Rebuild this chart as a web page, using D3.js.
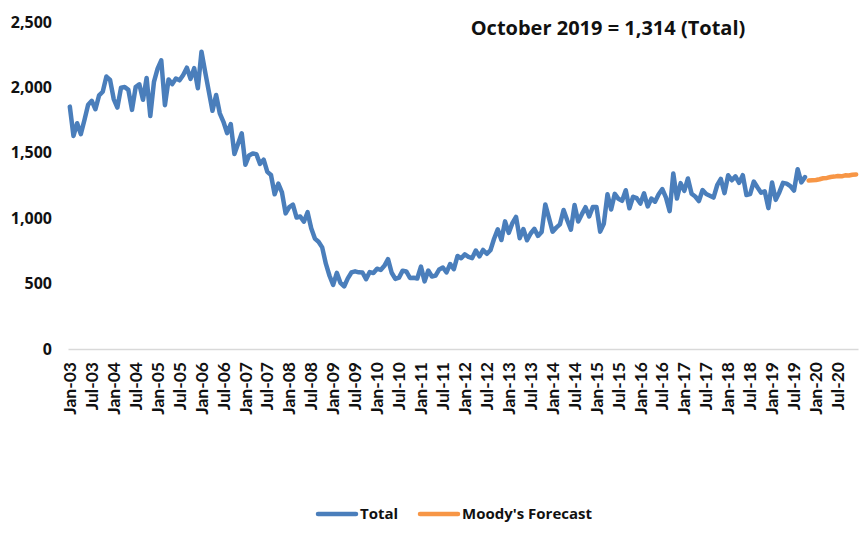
<!DOCTYPE html>
<html>
<head>
<meta charset="utf-8">
<script src="https://cdn.jsdelivr.net/npm/d3@7"></script>
<style>
  body { margin: 0; background: #fff; }
  svg text { font-family: "Open Sans", sans-serif; font-weight: bold; fill: #111; }
</style>
</head>
<body>
<div id="chartDiv"></div>
<script>
// monthly totals (thousands), Jan-03 .. Oct-19
var total = [
  1853,1629,1726,1643,1751,1867,1897,1833,1939,1967,2083,2057,  // 2003
  1911,1846,1998,2003,1981,1828,2002,2024,1905,2072,1782,2042,  // 2004
  2144,2207,1864,2061,2025,2068,2054,2095,2151,2065,2147,1994,  // 2005
  2273,2119,1969,1821,1942,1802,1737,1650,1720,1491,1570,1649,  // 2006
  1409,1480,1495,1490,1415,1448,1354,1330,1183,1264,1197,1037,  // 2007
  1084,1103,1005,1013,973,1046,923,844,820,777,652,560,         // 2008
  490,582,505,478,540,585,594,586,585,534,588,581,              // 2009
  614,604,636,687,583,536,546,599,593,543,545,539,              // 2010
  630,517,600,554,561,608,623,585,650,610,711,694,              // 2011
  723,704,695,753,708,757,728,755,843,915,833,976,              // 2012
  888,962,1010,847,917,831,883,919,865,895,1105,1003,           // 2013
  897,928,953,1063,984,912,1101,975,1031,1084,1013,1086,        // 2014
  1085,897,957,1183,1066,1186,1148,1133,1214,1076,1164,1153,    // 2015
  1112,1190,1090,1150,1126,1183,1222,1157,1054,1342,1150,1268,  // 2016
  1209,1304,1187,1166,1131,1215,1185,1172,1158,1252,1300,1192,  // 2017
  1328,1290,1320,1270,1329,1177,1184,1280,1236,1195,1206,1077,  // 2018
  1273,1140,1199,1270,1264,1245,1211,1375,1274,1314             // 2019
];
// Moody's forecast, Nov-19 .. Dec-20
var forecast = [1288,1290,1292,1298,1305,1308,1315,1318,1322,1320,1328,1326,1332,1334];

var monthNames = ["Jan","Feb","Mar","Apr","May","Jun","Jul","Aug","Sep","Oct","Nov","Dec"];
var yTicks = [0,500,1000,1500,2000,2500];
var titleText = "October 2019 = 1,314 (Total)";
var legendItems = ["Total","Moody's Forecast"];
var colors = ["#4a7ebb","#f79646"];

var months = [];
for (var yr = 2003; yr <= 2020; yr++) {
  for (var m = 0; m < 12; m++) {
    months.push(monthNames[m] + "-" + String(yr).slice(2));
  }
}
var fcStart = total.length; // forecast begins the month after the last actual

var width = 866, height = 534;
var svg = d3.select("#chartDiv").append("svg")
  .attr("width", width)
  .attr("height", height);

var x = d3.scaleBand().domain(months).range([68, 858]).paddingInner(0).paddingOuter(0);
var y = d3.scaleLinear().domain([0, 2500]).range([349, 22]);

// y labels (no axis line)
svg.selectAll(".ylab").data(yTicks).enter().append("text")
  .attr("class", "ylab")
  .attr("x", 52)
  .attr("y", function(d){ return y(d); })
  .attr("dy", "0.35em")
  .attr("text-anchor", "end")
  .style("font-size", "16px")
  .text(function(d){ return d3.format(",")(d); });

// x axis
var xAxis = d3.axisBottom(x)
  .tickSize(0)
  .tickValues(months.filter(function(d, i){ return i % 6 === 0; }));

var gx = svg.append("g")
  .attr("transform", "translate(0," + y(0) + ")")
  .call(xAxis);
gx.select(".domain").attr("stroke", "#d9d9d9").attr("stroke-width", 1.5);
gx.selectAll("text")
  .attr("transform", "rotate(-90)")
  .attr("x", -13)
  .attr("y", 0)
  .attr("dy", "0.35em")
  .attr("text-anchor", "end")
  .style("font-size", "17.5px")
  .style("font-family", "Lato, sans-serif")
  .style("font-weight", "bold")
  .attr("fill", "#111");

var line = d3.line()
  .x(function(d){ return x(months[d.i]) + x.bandwidth() / 2; })
  .y(function(d){ return y(d.v); });

var totalPts = total.map(function(v, i){ return {i: i, v: v}; });
var fcPts = forecast.map(function(v, i){ return {i: fcStart + i, v: v}; });

svg.append("path")
  .datum(totalPts)
  .attr("d", line)
  .attr("fill", "none")
  .attr("stroke", colors[0])
  .attr("stroke-width", 4.5)
  .attr("stroke-linejoin", "round")
  .attr("stroke-linecap", "round");

svg.append("path")
  .datum(fcPts)
  .attr("d", line)
  .attr("fill", "none")
  .attr("stroke", colors[1])
  .attr("stroke-width", 4.5)
  .attr("stroke-linejoin", "round")
  .attr("stroke-linecap", "round");

// title
svg.append("text")
  .attr("x", 608)
  .attr("y", 28)
  .attr("dy", "0.35em")
  .attr("text-anchor", "middle")
  .style("font-size", "20px")
  .text(titleText);

// legend
var legendX = [318, 420];
var lg = svg.selectAll(".leg").data(legendItems).enter().append("g")
  .attr("class", "leg")
  .attr("transform", function(d, i){ return "translate(" + legendX[i] + ",514)"; });
lg.append("line")
  .attr("x1", 0).attr("x2", 38)
  .attr("y1", 0).attr("y2", 0)
  .attr("stroke", function(d, i){ return colors[i]; })
  .attr("stroke-width", 4.5)
  .attr("stroke-linecap", "round");
lg.append("text")
  .attr("x", 42)
  .attr("y", 0)
  .attr("dy", "0.35em")
  .style("font-size", "15px")
  .text(function(d){ return d; });
</script>
</body>
</html>
